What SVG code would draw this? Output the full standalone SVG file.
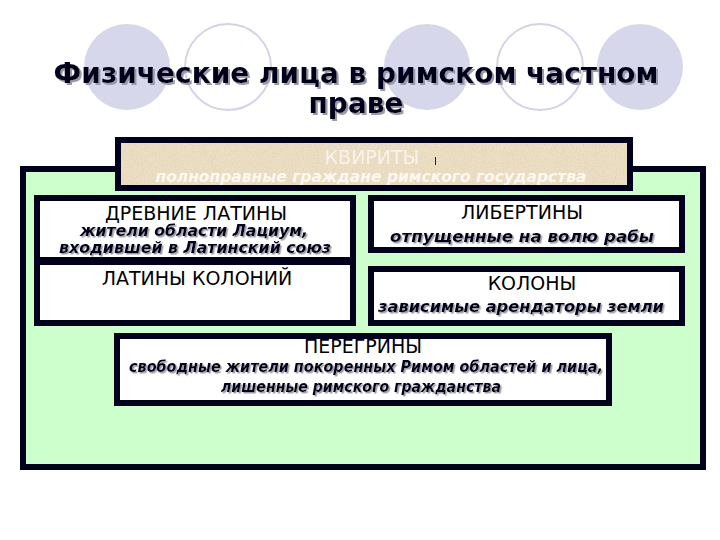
<svg xmlns="http://www.w3.org/2000/svg" width="720" height="540" viewBox="0 0 720 540">
<style>
.circ{fill:#d7d7eb}
.ring{fill:none;stroke:#d3d3e6;stroke-width:2}
.title{font-family:"DejaVu Sans",sans-serif;font-weight:bold;font-size:28px;text-anchor:middle;fill:#00001a;filter:url(#tsh)}
.box{fill:#fff;stroke:#00001e;stroke-width:6}
.cap{font-family:"DejaVu Sans",sans-serif;font-size:19px;fill:#000;text-anchor:middle}
.it{font-family:"DejaVu Sans",sans-serif;font-weight:bold;font-style:italic;font-size:15.5px;text-anchor:middle;fill:#00001a;filter:url(#ish)}
</style>
<defs>
<filter id="tsh" x="-5%" y="-20%" width="110%" height="150%">
<feDropShadow dx="2" dy="2" stdDeviation="0.4" flood-color="#9a9aa8" flood-opacity="1"/>
</filter>
<filter id="ish" x="-5%" y="-20%" width="110%" height="150%">
<feDropShadow dx="1.5" dy="1.5" stdDeviation="0.3" flood-color="#9a9aa0" flood-opacity="1"/>
</filter>
<filter id="paper" x="0" y="0" width="100%" height="100%">
<feTurbulence type="fractalNoise" baseFrequency="0.9" numOctaves="3" seed="4" result="n"/>
<feColorMatrix in="n" type="matrix" values="0 0 0 0 0.74  0 0 0 0 0.63  0 0 0 0 0.47  2 0 0 0 -0.85" result="c"/>
<feComposite in="c" in2="SourceGraphic" operator="in"/>
</filter>
</defs>
<rect width="720" height="540" fill="#fff"/>
<g id="decor">
<circle class="circ" cx="127" cy="67" r="43"/>
<circle class="ring" cx="228" cy="67" r="43"/>
<circle class="circ" cx="427" cy="67" r="43"/>
<circle class="ring" cx="540" cy="67" r="43"/>
<circle class="circ" cx="640" cy="67" r="43"/>
</g>
<g id="title">
<text class="title" x="356" y="83">Физические лица в римском частном</text>
<text class="title" x="356" y="113">праве</text>
</g>
<g id="frame">
<rect x="23" y="169" width="680" height="298" fill="#ccffcc" stroke="#00001e" stroke-width="6"/>
</g>
<g id="kviriti">
<rect x="118" y="140" width="512" height="48" fill="#ecdfc4" stroke="#00001e" stroke-width="6"/>
<rect x="121" y="143" width="506" height="42" fill="#ecdfc4" filter="url(#paper)"/>
<text class="cap" x="372" y="164" style="fill:#f7f3ea">КВИРИТЫ</text>
<line x1="435.5" y1="157" x2="435.5" y2="165" stroke="#222" stroke-width="1"/>
<text x="371" y="182" style="font-family:'DejaVu Sans',sans-serif;font-weight:bold;font-style:italic;font-size:15.5px;text-anchor:middle;fill:#fbf8f0">полноправные граждане римского государства</text>
</g>
<g id="drevnie">
<rect class="box" x="37" y="198" width="316" height="62"/>
<text class="cap" x="196" y="220">ДРЕВНИЕ ЛАТИНЫ</text>
<text class="it" x="194" y="236" textLength="228" lengthAdjust="spacingAndGlyphs">жители области Лациум,</text>
<text class="it" x="195" y="253" textLength="272" lengthAdjust="spacingAndGlyphs">входившей в Латинский союз</text>
</g>
<g id="latiny-kolonii">
<rect class="box" x="37" y="262" width="316" height="61"/>
<text class="cap" x="197" y="285">ЛАТИНЫ КОЛОНИЙ</text>
</g>
<g id="libertiny">
<rect class="box" x="371" y="198" width="311" height="52"/>
<text class="cap" x="522" y="219">ЛИБЕРТИНЫ</text>
<text class="it" x="522" y="242" textLength="264" lengthAdjust="spacingAndGlyphs">отпущенные на волю рабы</text>
</g>
<g id="kolony">
<rect class="box" x="371" y="269" width="311" height="54"/>
<text class="cap" x="532" y="290">КОЛОНЫ</text>
<text class="it" x="521" y="312" textLength="286" lengthAdjust="spacingAndGlyphs">зависимые арендаторы земли</text>
</g>
<g id="peregriny">
<rect class="box" x="117" y="336" width="492" height="67"/>
<text class="cap" x="363" y="353">ПЕРЕГРИНЫ</text>
<text class="it" x="366" y="372" textLength="474" lengthAdjust="spacingAndGlyphs">свободные жители  покоренных Римом областей и лица,</text>
<text class="it" x="361" y="392" textLength="280" lengthAdjust="spacingAndGlyphs">лишенные римского гражданства</text>
</g>
<g id="connectors"></g>
</svg>
